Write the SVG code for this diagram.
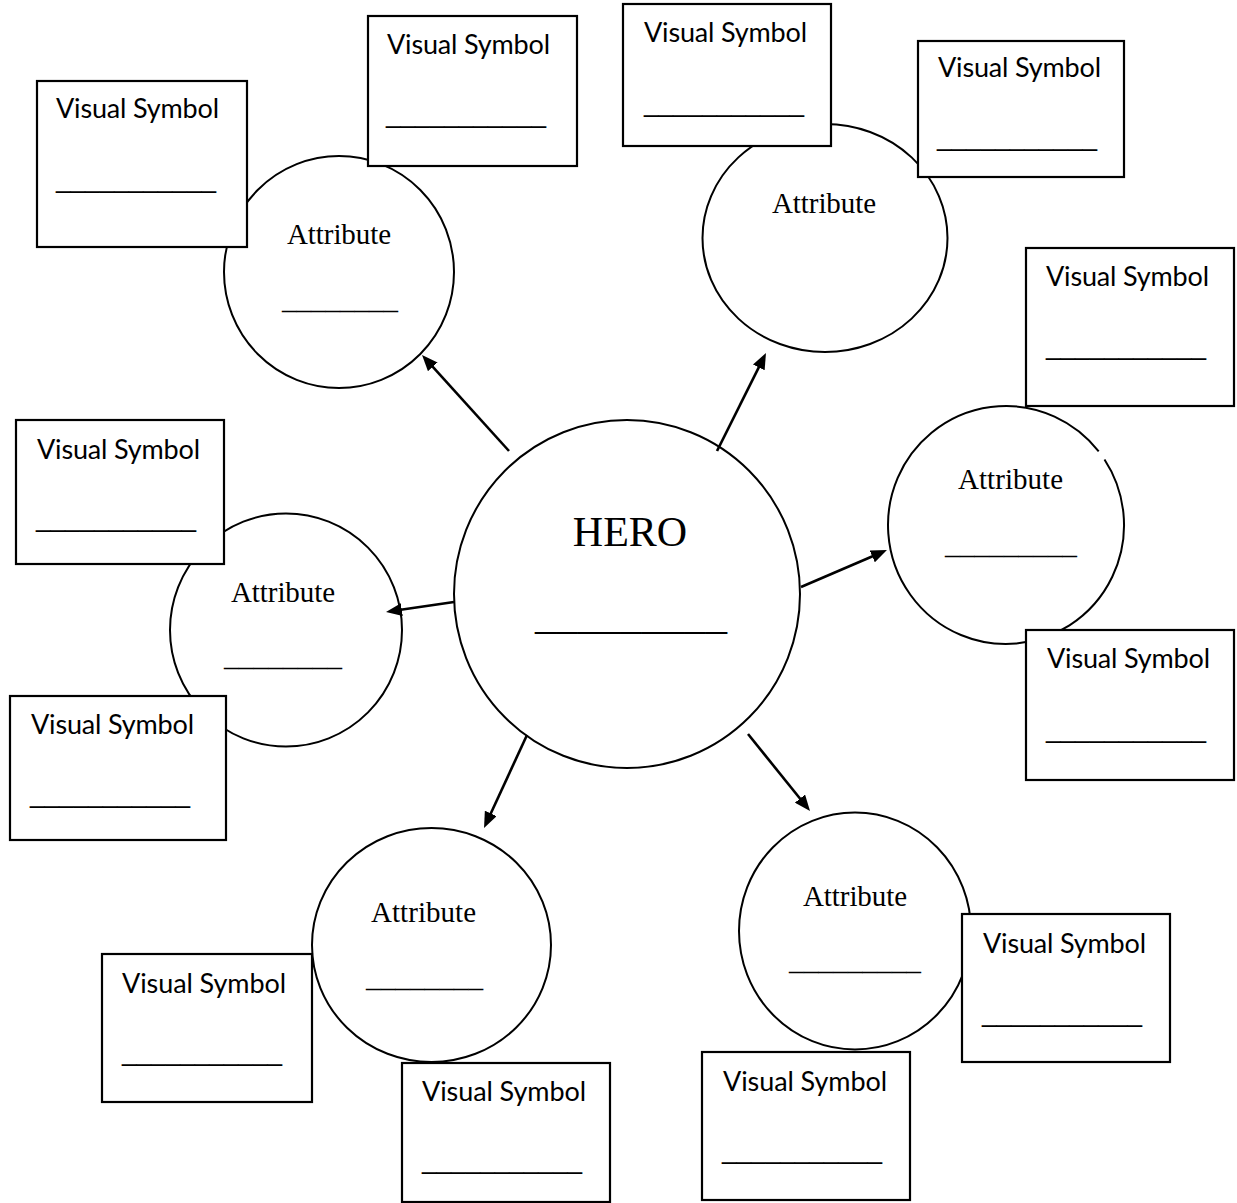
<svg xmlns="http://www.w3.org/2000/svg" width="1237" height="1203" viewBox="0 0 1237 1203">
<style>
.circ{fill:#fff;stroke:#000;stroke-width:2}
.box{fill:#fff;stroke:#000;stroke-width:2.2}
.vs{font-family:Lato,"Open Sans","Liberation Sans",sans-serif;font-size:27px;fill:#000}
.ul{font-family:"Liberation Sans",Arial,sans-serif;font-size:27px;fill:#000}
.at{font-family:"Liberation Serif","Times New Roman",serif;font-size:29px;fill:#000}
.hero{font-family:"Liberation Serif","Times New Roman",serif;font-size:42px;fill:#000}
.conn line{stroke:#000;stroke-width:2.6}
</style>
<defs>
<marker id="ah" viewBox="0 0 16 13" refX="8" refY="6.5" markerWidth="16" markerHeight="13" markerUnits="userSpaceOnUse" orient="auto">
<path d="M0,0 L16,6.5 L0,13 z" fill="#000"/>
</marker>
</defs>
<rect width="1237" height="1203" fill="#fff"/>

<g id="hero">
<ellipse class="circ" cx="627" cy="594" rx="173" ry="174"/>
<text class="hero" x="630" y="546" text-anchor="middle">HERO</text>
<text class="hero" x="535" y="629" textLength="192" lengthAdjust="spacingAndGlyphs">_________</text>
</g>

<g id="attr1">
<ellipse class="circ" cx="339" cy="272" rx="115" ry="116"/>
<text class="at" x="287" y="244" textLength="104">Attribute</text>
<text class="at" x="282" y="309" textLength="116" lengthAdjust="spacingAndGlyphs">________</text>
</g>
<g id="attr2">
<ellipse class="circ" cx="825" cy="238" rx="122.5" ry="114"/>
<text class="at" x="772" y="213" textLength="104">Attribute</text>
</g>
<g id="attr3">
<path class="circ" d="M1104.5,459.5 A118,119 0 1 1 1098.7,451.4"/>
<text class="at" x="958" y="489" textLength="105">Attribute</text>
<text class="at" x="945" y="554" textLength="132" lengthAdjust="spacingAndGlyphs">_________</text>
</g>
<g id="attr4">
<ellipse class="circ" cx="286" cy="630" rx="116" ry="116.5"/>
<text class="at" x="231" y="602" textLength="104">Attribute</text>
<text class="at" x="224" y="666" textLength="118" lengthAdjust="spacingAndGlyphs">________</text>
</g>
<g id="attr5">
<ellipse class="circ" cx="431.5" cy="945" rx="119.5" ry="117"/>
<text class="at" x="371" y="922" textLength="105">Attribute</text>
<text class="at" x="366" y="987" textLength="117" lengthAdjust="spacingAndGlyphs">________</text>
</g>
<g id="attr6">
<ellipse class="circ" cx="855" cy="931" rx="116" ry="118.5"/>
<text class="at" x="803" y="906" textLength="104">Attribute</text>
<text class="at" x="789" y="970" textLength="132" lengthAdjust="spacingAndGlyphs">_________</text>
</g>

<g id="vs1">
<rect class="box" x="37" y="81" width="210" height="166"/>
<text class="vs" x="56" y="118" textLength="163">Visual Symbol</text>
<text class="ul" x="56" y="187" textLength="160" lengthAdjust="spacingAndGlyphs">___________</text>
</g>
<g id="vs2">
<rect class="box" x="368" y="16" width="209" height="150"/>
<text class="vs" x="387" y="54" textLength="163">Visual Symbol</text>
<text class="ul" x="386" y="122" textLength="160" lengthAdjust="spacingAndGlyphs">___________</text>
</g>
<g id="vs3">
<rect class="box" x="623" y="4" width="208" height="142"/>
<text class="vs" x="644" y="42" textLength="163">Visual Symbol</text>
<text class="ul" x="644" y="111" textLength="160" lengthAdjust="spacingAndGlyphs">___________</text>
</g>
<g id="vs4">
<rect class="box" x="918" y="41" width="206" height="136"/>
<text class="vs" x="938" y="77" textLength="163">Visual Symbol</text>
<text class="ul" x="937" y="145" textLength="160" lengthAdjust="spacingAndGlyphs">___________</text>
</g>
<g id="vs5">
<rect class="box" x="1026" y="248" width="208" height="158"/>
<text class="vs" x="1046" y="286" textLength="163">Visual Symbol</text>
<text class="ul" x="1046" y="354" textLength="160" lengthAdjust="spacingAndGlyphs">___________</text>
</g>
<g id="vs6">
<rect class="box" x="16" y="420" width="208" height="144"/>
<text class="vs" x="37" y="459" textLength="163">Visual Symbol</text>
<text class="ul" x="36" y="526" textLength="160" lengthAdjust="spacingAndGlyphs">___________</text>
</g>
<g id="vs7">
<rect class="box" x="1026" y="630" width="208" height="150"/>
<text class="vs" x="1047" y="668" textLength="163">Visual Symbol</text>
<text class="ul" x="1046" y="737" textLength="160" lengthAdjust="spacingAndGlyphs">___________</text>
</g>
<g id="vs8">
<rect class="box" x="10" y="696" width="216" height="144"/>
<text class="vs" x="31" y="734" textLength="163">Visual Symbol</text>
<text class="ul" x="30" y="802" textLength="160" lengthAdjust="spacingAndGlyphs">___________</text>
</g>
<g id="vs9">
<rect class="box" x="102" y="954" width="210" height="148"/>
<text class="vs" x="122" y="993" textLength="164">Visual Symbol</text>
<text class="ul" x="122" y="1060" textLength="160" lengthAdjust="spacingAndGlyphs">___________</text>
</g>
<g id="vs10">
<rect class="box" x="402" y="1063" width="208" height="139"/>
<text class="vs" x="422" y="1101" textLength="164">Visual Symbol</text>
<text class="ul" x="422" y="1168" textLength="160" lengthAdjust="spacingAndGlyphs">___________</text>
</g>
<g id="vs11">
<rect class="box" x="702" y="1052" width="208" height="148"/>
<text class="vs" x="723" y="1091" textLength="164">Visual Symbol</text>
<text class="ul" x="722" y="1158" textLength="160" lengthAdjust="spacingAndGlyphs">___________</text>
</g>
<g id="vs12">
<rect class="box" x="962" y="914" width="208" height="148"/>
<text class="vs" x="983" y="953" textLength="163">Visual Symbol</text>
<text class="ul" x="982" y="1021" textLength="160" lengthAdjust="spacingAndGlyphs">___________</text>
</g>

<g id="connectors" class="conn">
<line x1="509" y1="451" x2="427.4" y2="360.9" marker-end="url(#ah)"/>
<line x1="717" y1="451" x2="762.4" y2="360.2" marker-end="url(#ah)"/>
<line x1="801" y1="587" x2="879.6" y2="553.2" marker-end="url(#ah)"/>
<line x1="454" y1="602" x2="393.9" y2="610.8" marker-end="url(#ah)"/>
<line x1="527" y1="735" x2="487.4" y2="820.7" marker-end="url(#ah)"/>
<line x1="748" y1="734" x2="805" y2="804.8" marker-end="url(#ah)"/>
</g>
</svg>
